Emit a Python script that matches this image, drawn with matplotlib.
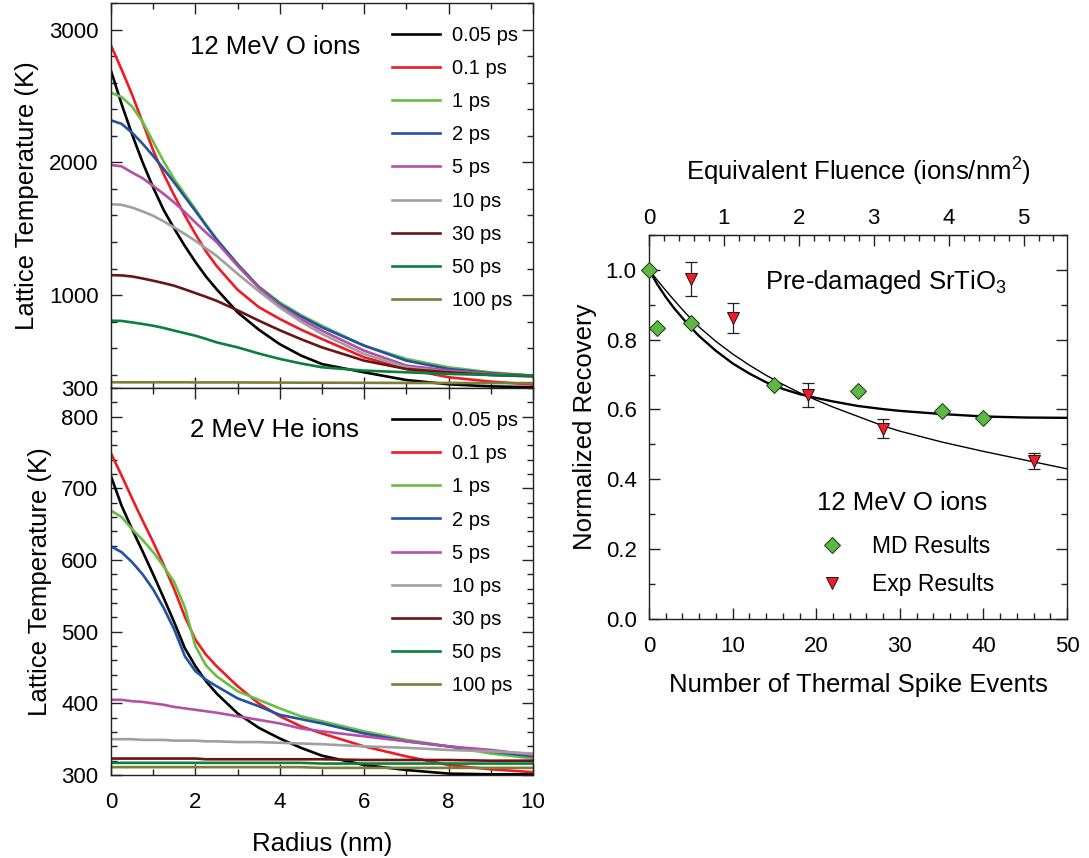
import matplotlib
matplotlib.use('Agg')
import matplotlib.pyplot as plt
from matplotlib.ticker import MultipleLocator, FixedLocator, FormatStrFormatter

plt.rcParams['font.family'] = ['Liberation Sans', 'DejaVu Sans']
plt.rcParams['mathtext.fontset'] = 'custom'
plt.rcParams['mathtext.rm'] = 'Liberation Sans'
plt.rcParams['mathtext.it'] = 'Liberation Sans:italic'
plt.rcParams['mathtext.bf'] = 'Liberation Sans:bold'

# ---------------- data: lattice temperature profiles ----------------
RADIUS = [0, 0.25, 0.5, 0.75, 1, 1.25, 1.5, 1.75, 2, 2.25, 2.5, 3, 3.5, 4, 4.5, 5, 6, 7, 8, 9, 10]
TIMES = ['0.05 ps', '0.1 ps', '1 ps', '2 ps', '5 ps', '10 ps', '30 ps', '50 ps', '100 ps']
COLORS = ['#000000', '#ED1C24', '#6ABD45', '#2152A3', '#B64FA6',
          '#A0A0A0', '#6B1414', '#0A7F3F', '#7F7D36']

# 12 MeV O ions (K)
O_005 = [2690, 2440, 2210, 2000, 1810, 1640, 1500, 1370, 1250, 1140, 1045, 870, 740, 630, 545, 480, 418, 360, 328, 312, 306]
O_01 = [2880, 2700, 2510, 2300, 2090, 1910, 1750, 1600, 1460, 1330, 1220, 1040, 910, 820, 740, 669, 531, 443, 381, 348, 326]
O_1 = [2524, 2492, 2420, 2305, 2155, 2005, 1872, 1760, 1647, 1530, 1421, 1235, 1065, 945, 850, 769, 619, 519, 456, 418, 393]
O_2 = [2316, 2290, 2223, 2140, 2048, 1950, 1847, 1740, 1634, 1525, 1421, 1230, 1060, 932, 840, 757, 619, 506, 443, 411, 393]
O_5 = [1980, 1970, 1923, 1880, 1822, 1762, 1697, 1625, 1547, 1472, 1400, 1220, 1055, 920, 820, 732, 581, 469, 431, 406, 393]
O_10 = [1684, 1680, 1659, 1630, 1597, 1555, 1509, 1460, 1409, 1352, 1296, 1160, 1030, 907, 800, 707, 556, 456, 418, 398, 388]
O_30 = [1150, 1148, 1140, 1125, 1108, 1090, 1070, 1043, 1015, 987, 957, 885, 808, 735, 668, 606, 506, 443, 418, 398, 388]
O_50 = [807, 805, 794, 782, 769, 752, 732, 713, 694, 670, 644, 606, 560, 519, 485, 456, 431, 418, 406, 398, 393]
O_100 = [343, 343, 343, 343, 343, 343, 343, 343, 342, 342, 342, 342, 341, 341, 340, 340, 339, 338, 338, 337, 337]

# 2 MeV He ions (K)
HE_005 = [717, 676, 643, 612, 580, 547, 513, 477, 452, 431, 414, 386, 366, 351, 338, 327, 314, 307, 302, 301, 301]
HE_01 = [749, 718, 686, 655, 625, 593, 559, 521, 489, 468, 452, 424, 400, 382, 368, 358, 340, 326, 314, 308, 304]
HE_1 = [669, 660, 643, 628, 611, 591, 569, 534, 480, 453, 438, 417, 405, 393, 382, 375, 361, 349, 340, 330, 323]
HE_2 = [619, 611, 597, 580, 559, 533, 503, 466, 445, 433, 424, 407, 396, 384, 378, 372, 358, 347, 340, 333, 326]
HE_5 = [405, 405, 403, 402, 400, 398, 395, 393, 391, 389, 387, 382, 377, 372, 365, 361, 354, 347, 340, 335, 328]
HE_10 = [350, 350, 350, 349, 349, 349, 348, 348, 348, 347, 347, 346, 346, 345, 344, 343, 340, 338, 335, 333, 330]
HE_30 = [323, 323, 323, 323, 323, 323, 323, 323, 323, 322, 322, 322, 322, 322, 322, 322, 321, 321, 321, 320, 320]
HE_50 = [317, 317, 317, 317, 317, 317, 317, 317, 317, 317, 317, 317, 317, 317, 317, 316, 316, 316, 316, 316, 316]
HE_100 = [311, 311, 311, 311, 311, 311, 311, 311, 311, 311, 311, 311, 311, 311, 311, 310, 310, 310, 310, 310, 310]

O_SERIES = [O_005, O_01, O_1, O_2, O_5, O_10, O_30, O_50, O_100]
HE_SERIES = [HE_005, HE_01, HE_1, HE_2, HE_5, HE_10, HE_30, HE_50, HE_100]

# ---------------- data: recovery ----------------
MD_EVENTS = [0, 1, 5, 15, 25, 35, 40]
MD_RECOVERY = [1.0, 0.834, 0.847, 0.670, 0.653, 0.596, 0.577]
EXP_EVENTS = [5, 10, 19, 28, 46]
EXP_RECOVERY = [0.974, 0.862, 0.641, 0.545, 0.453]
EXP_ERR = [0.048, 0.043, 0.034, 0.027, 0.023]

FIT_EVENTS = [0, 1, 2, 3, 4, 5, 6, 8, 10, 12, 14, 16, 18, 20, 22, 25, 28, 30, 35, 40, 45, 50]
MD_FIT = [1.000, 0.958, 0.922, 0.890, 0.862, 0.835, 0.810, 0.768, 0.732, 0.703, 0.678, 0.659,
          0.644, 0.633, 0.623, 0.610, 0.601, 0.596, 0.587, 0.580, 0.577, 0.576]
EXP_FIT = [1.000, 0.970, 0.941, 0.913, 0.886, 0.860, 0.836, 0.795, 0.759, 0.727, 0.698, 0.672,
           0.648, 0.627, 0.607, 0.580, 0.553, 0.538, 0.507, 0.480, 0.455, 0.430]
EVENTS_PER_FLUENCE = 8.96
FLUENCE_TICKS = [0, 1, 2, 3, 4, 5]

TICK_FS = 16
LABEL_FS = 18.5

fig = plt.figure(figsize=(10.89, 8.58), dpi=100)
ax1 = fig.add_axes([0.1019, 0.5478, 0.3875, 0.4487])
ax2 = fig.add_axes([0.1019, 0.0967, 0.3875, 0.4511])
ax3 = fig.add_axes([0.596, 0.2786, 0.3838, 0.4476])


def style(ax, top=True):
    ax.tick_params(which='both', direction='in', top=top, right=True,
                   labelsize=TICK_FS, width=1.0, color='#222222')
    ax.tick_params(which='major', length=8)
    ax.tick_params(which='minor', length=4.5)
    ax.tick_params(axis='y', which='both', pad=9)
    ax.tick_params(axis='x', which='both', pad=12)
    for s in ax.spines.values():
        s.set_linewidth(1.0)
        s.set_color('#222222')


for ax, series in ((ax1, O_SERIES), (ax2, HE_SERIES)):
    for vals, lab, col in zip(series, TIMES, COLORS):
        ax.plot(RADIUS, vals, color=col, lw=1.9, label=lab)
    style(ax)
    ax.set_xlim(0, 10)
    ax.xaxis.set_major_locator(MultipleLocator(2))
    ax.xaxis.set_minor_locator(MultipleLocator(1))
    ax.set_ylabel('Lattice Temperature (K)', fontsize=LABEL_FS, labelpad=7)

ax1.set_ylim(300, 3200)
ax1.yaxis.set_major_locator(FixedLocator([300, 1000, 2000, 3000]))
ax1.yaxis.set_minor_locator(MultipleLocator(200))
ax1.tick_params(labelbottom=False)
ax1.text(0.187, 0.886, '12 MeV O ions', transform=ax1.transAxes,
         fontsize=LABEL_FS, va='center', ha='left')
ax1.legend(loc='upper left', bbox_to_anchor=(0.666, 0.940), fontsize=14.5,
           frameon=False, borderpad=0, borderaxespad=0, handlelength=2.4,
           handletextpad=0.6, labelspacing=0.70)

ax2.set_ylim(300, 840)
ax2.yaxis.set_major_locator(MultipleLocator(100))
ax2.yaxis.set_minor_locator(MultipleLocator(20))
ax2.set_xlabel('Radius (nm)', fontsize=LABEL_FS, labelpad=14)
ax2.text(0.187, 0.891, '2 MeV He ions', transform=ax2.transAxes,
         fontsize=LABEL_FS, va='center', ha='left')
ax2.legend(loc='upper left', bbox_to_anchor=(0.666, 0.940), fontsize=14.5,
           frameon=False, borderpad=0, borderaxespad=0, handlelength=2.4,
           handletextpad=0.6, labelspacing=0.70)

# ---------------- right panel ----------------
ax3.plot(FIT_EVENTS, MD_FIT, color='black', lw=1.7, zorder=2)
ax3.plot(FIT_EVENTS, EXP_FIT, color='black', lw=1.0, zorder=2)
ax3.errorbar(EXP_EVENTS, EXP_RECOVERY, yerr=EXP_ERR, fmt='none', ecolor='#222222',
             elinewidth=0.9, capsize=4, capthick=0.9, zorder=3)
ax3.plot(MD_EVENTS, MD_RECOVERY, linestyle='none', marker='D', ms=7.8,
         mfc='#5DB646', mec='#1a3a10', mew=0.7, label='MD Results', zorder=4,
         clip_on=False)
ax3.plot(EXP_EVENTS, EXP_RECOVERY, linestyle='none', marker='v', ms=9,
         mfc='#E8202A', mec='#3a0a0a', mew=0.7, label='Exp Results', zorder=4)
style(ax3, top=False)
ax3.set_xlim(0, 50)
ax3.set_ylim(0, 1.1)
ax3.xaxis.set_major_locator(MultipleLocator(10))
ax3.xaxis.set_minor_locator(MultipleLocator(2))
ax3.yaxis.set_major_locator(MultipleLocator(0.2))
ax3.yaxis.set_minor_locator(MultipleLocator(0.1))
ax3.yaxis.set_major_formatter(FormatStrFormatter('%.1f'))
ax3.set_xlabel('Number of Thermal Spike Events', fontsize=LABEL_FS, labelpad=12)
ax3.set_ylabel('Normalized Recovery', fontsize=LABEL_FS, labelpad=6)
ax3.text(0.2775, 0.878, 'Pre-damaged SrTiO$_3$', transform=ax3.transAxes,
         fontsize=LABEL_FS, va='center', ha='left')
ax3.text(0.402, 0.302, '12 MeV O ions', transform=ax3.transAxes,
         fontsize=LABEL_FS, va='center', ha='left')
ax3.legend(loc='upper left', bbox_to_anchor=(0.394, 0.218), fontsize=16.5,
           frameon=False, borderpad=0, borderaxespad=0, handlelength=1.6,
           handletextpad=0.94, labelspacing=0.65, numpoints=1)

sec = ax3.secondary_xaxis('top', functions=(lambda e: e / EVENTS_PER_FLUENCE,
                                             lambda f: f * EVENTS_PER_FLUENCE))
sec.tick_params(which='both', direction='in', labelsize=TICK_FS, pad=4,
                width=1.0, color='#222222')
sec.tick_params(which='major', length=8)
sec.tick_params(which='minor', length=4.5)
sec.xaxis.set_major_locator(FixedLocator(FLUENCE_TICKS))
sec.xaxis.set_minor_locator(MultipleLocator(0.2))
sec.set_xlabel('Equivalent Fluence (ions/nm$^2$)', fontsize=LABEL_FS, labelpad=20)

fig.savefig('out.png', dpi=100)
